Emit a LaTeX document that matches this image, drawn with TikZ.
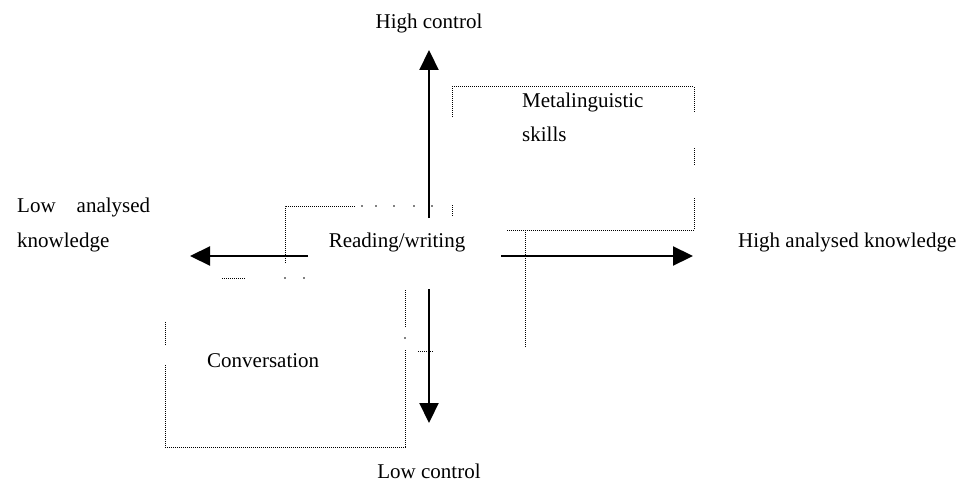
\documentclass[tikz,border=0pt]{standalone}
\usepackage{fontspec}
\setmainfont{Liberation Serif}
\usetikzlibrary{arrows.meta}
\tikzset{
  LabelStyle/.style = { inner sep = 0pt,
                       font = \fontsize{21}{35}\selectfont },
  AxisStyle/.style = { line width = 2.2pt,
                       -{Triangle[length=20pt,width=19pt]} },
  BoxStyle/.style = { line width = 1pt,
                      dash pattern = on 1pt off 1pt } }

\begin{document}
\begin{tikzpicture}[x=1pt,y=-1pt]
  \useasboundingbox (0,0) rectangle (971,484);
  % axis labels
  \node[LabelStyle, anchor=base] (hc) at (429,29) {High control};
  \node[LabelStyle, anchor=base] (lc) at (429,478) {Low control};
  \node[LabelStyle, anchor=base west, align=left] (lak) at (17,247)
    {Low\quad analysed\\knowledge};
  \node[LabelStyle, anchor=base west] (hak) at (738,247)
    {High analysed knowledge};

  % quadrant labels
  \node[LabelStyle, anchor=base] (rw) at (397,247) {Reading/writing};
  \node[LabelStyle, anchor=base west, align=left] (ms) at (522,142)
    {Metalinguistic\\skills};
  \node[LabelStyle, anchor=base west] (cv) at (207,367) {Conversation};

  % axes
  \coordinate (up0) at (429,218);
  \coordinate (up1) at (429,50);
  \coordinate (dn0) at (429,289);
  \coordinate (dn1) at (429,423);
  \coordinate (lt0) at (308,256);
  \coordinate (lt1) at (190,256);
  \coordinate (rt0) at (501,256);
  \coordinate (rt1) at (693,256);
  \draw[AxisStyle] (up0) -- (up1);
  \draw[AxisStyle] (dn0) -- (dn1);
  \draw[AxisStyle] (lt0) -- (lt1);
  \draw[AxisStyle] (rt0) -- (rt1);

  % metalinguistic box
  \draw[BoxStyle] (452,117) -- (452,87) -- (694,87) -- (694,112);
  \draw[BoxStyle] (694,148) -- (694,165);
  \draw[BoxStyle] (694,198) -- (694,230) -- (507,230);
  \draw[BoxStyle] (452,205) -- (452,217);
  \draw[BoxStyle] (525,230) -- (525,348);

  % reading/writing box
  \draw[BoxStyle] (285,263) -- (285,206) -- (355,206);
  \foreach \x in {362,376,394,414,432}
    \fill (\x,206) circle (0.8pt);
  \draw[BoxStyle] (222,278) -- (246,278);
  \foreach \x in {285,304}
    \fill (\x,278) circle (0.8pt);

  % conversation box
  \draw[BoxStyle] (405,290) -- (405,327);
  \fill (405,338) circle (0.8pt);
  \draw[BoxStyle] (405,350) -- (405,447) -- (165,447) -- (165,365);
  \draw[BoxStyle] (165,345) -- (165,322);
  \draw[BoxStyle] (418,351) -- (433,351);
\end{tikzpicture}
\end{document}
